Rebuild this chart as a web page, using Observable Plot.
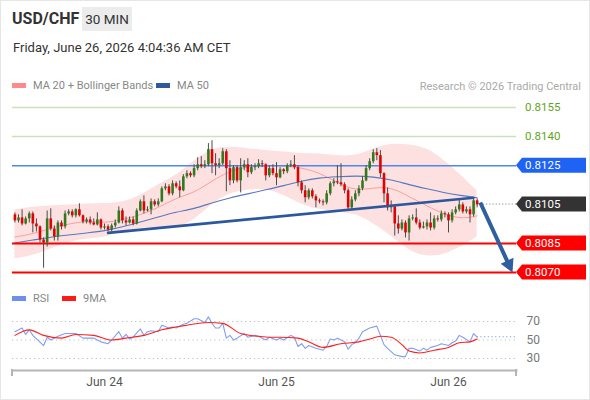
<!DOCTYPE html>
<html><head><meta charset="utf-8">
<script src="https://cdn.jsdelivr.net/npm/d3@7"></script>
<script src="https://cdn.jsdelivr.net/npm/@observablehq/plot@0.6"></script>
<style>
body{margin:0;background:#fff;font-family:Roboto,"Liberation Sans",Arial,sans-serif;}
#wrap{position:relative;width:590px;height:400px;overflow:hidden;background:#fff;}
#frame{position:absolute;left:0;top:0;width:590px;height:400px;box-sizing:border-box;border:1px solid #e6e6e6;pointer-events:none;}
.abs{position:absolute;white-space:nowrap;}
.sym{left:12px;top:9px;font-size:16px;font-weight:bold;color:#333;}
.tf{left:82px;top:7px;width:50px;height:24px;line-height:24px;text-align:center;background:#ececec;font-size:13.5px;color:#333;}
.date{left:13px;top:40px;font-size:13px;color:#333;}
.leg{font-size:11px;color:#888;line-height:12px;}
.sw{display:inline-block;width:14px;height:5px;vertical-align:middle;margin-right:7px;position:relative;top:-1px;}
.credit{right:9px;top:80px;font-size:11px;color:#aaa;}
</style></head><body>
<div id="wrap">
  <div class="abs sym">USD/CHF</div>
  <div class="abs tf">30 MIN</div>
  <div class="abs date">Friday, June 26, 2026 4:04:36 AM CET</div>
  <div class="abs leg" style="left:12px;top:80px"><span class="sw" style="background:#ff8a8a"></span>MA 20 + Bollinger Bands</div>
  <div class="abs leg" style="left:156px;top:80px"><span class="sw" style="background:#2f5a9c"></span>MA 50</div>
  <div class="abs credit">Research © 2026 Trading Central</div>
  <div id="price" class="abs" style="left:0;top:95px"></div>
  <div class="abs leg" style="left:12px;top:293px"><span class="sw" style="background:#6f8ff0"></span>RSI</div>
  <div class="abs leg" style="left:62px;top:293px"><span class="sw" style="background:#ff1a1a"></span>9MA</div>
  <div id="rsi" class="abs" style="left:0;top:290px"></div>
  <div id="frame"></div>
</div>
<script>
// ---- data ----
const firstCandle = "2026-06-23T11:30:00Z"; // 30-minute candles
const dayTicks = ["2026-06-24T00:00:00Z","2026-06-25T00:00:00Z","2026-06-26T00:00:00Z"];

const open = [.80997,.80966,.80981,.80950,.80976,.81002,.80950,.80935,.80867,.80852,
.80976,.80924,.80883,.80955,.80935,.81002,.81012,.80992,.81023,.80992,
.80960,.80971,.80955,.80945,.80971,.80929,.80935,.80919,.80940,.80955,
.81017,.80966,.80955,.80971,.80950,.81017,.81064,.81017,.81023,.81064,
.81048,.81064,.81131,.81141,.81105,.81157,.81141,.81121,.81193,.81209,
.81198,.81235,.81255,.81245,.81255,.81333,.81260,.81250,.81260,.81322,
.81235,.81172,.81240,.81172,.81240,.81255,.81214,.81240,.81245,.81260,
.81255,.81198,.81235,.81209,.81188,.81229,.81219,.81250,.81255,.81240,
.81162,.81121,.81085,.81121,.81090,.81069,.81064,.81059,.81105,.81157,
.81167,.81162,.81152,.81121,.81033,.81074,.81105,.81131,.81172,.81235,
.81271,.81317,.81302,.81209,.81105,.81033,.81038,.80950,.80924,.80955,
.80904,.80976,.80981,.80955,.80929,.80935,.80955,.80929,.80976,.80971,
.81002,.80997,.80966,.81007,.81023,.81048,.81012,.81023,.80997,.81069];
const close = [.80966,.80981,.80950,.80976,.81002,.80950,.80935,.80867,.80852,.80976,
.80924,.80883,.80955,.80935,.81002,.81012,.80992,.81023,.80992,.80960,
.80971,.80955,.80945,.80971,.80929,.80935,.80919,.80940,.80955,.81017,
.80966,.80955,.80971,.80950,.81017,.81064,.81017,.81023,.81064,.81048,
.81064,.81131,.81141,.81105,.81157,.81141,.81121,.81193,.81209,.81198,
.81235,.81255,.81245,.81255,.81333,.81260,.81250,.81260,.81322,.81235,
.81172,.81240,.81172,.81240,.81255,.81214,.81240,.81245,.81260,.81255,
.81198,.81235,.81209,.81188,.81229,.81219,.81250,.81255,.81240,.81162,
.81121,.81085,.81121,.81090,.81069,.81064,.81059,.81105,.81157,.81167,
.81162,.81152,.81121,.81033,.81074,.81105,.81131,.81172,.81235,.81271,
.81317,.81302,.81209,.81105,.81033,.81038,.80950,.80924,.80955,.80904,
.80976,.80981,.80955,.80929,.80935,.80955,.80929,.80976,.80971,.81002,
.80997,.80966,.81007,.81023,.81048,.81012,.81023,.80997,.81069,.81048];
const high = [.81007,.80997,.81023,.80986,.81012,.81012,.80976,.80940,.80878,.81017,
.81028,.80940,.80966,.80966,.81017,.81023,.81023,.81028,.81054,.80997,
.80981,.80986,.80976,.81007,.80976,.80950,.80945,.80950,.80971,.81038,
.81028,.80986,.80986,.80986,.81028,.81074,.81095,.81038,.81079,.81074,
.81079,.81141,.81157,.81152,.81172,.81167,.81172,.81204,.81224,.81219,
.81255,.81291,.81297,.81276,.81364,.81379,.81312,.81286,.81338,.81333,
.81276,.81250,.81250,.81286,.81276,.81286,.81255,.81260,.81281,.81276,
.81260,.81250,.81255,.81266,.81240,.81235,.81260,.81276,.81302,.81250,
.81172,.81147,.81131,.81131,.81100,.81079,.81074,.81121,.81167,.81183,
.81250,.81260,.81162,.81131,.81090,.81121,.81147,.81193,.81250,.81286,
.81333,.81338,.81328,.81214,.81136,.81069,.81043,.80992,.80971,.80966,
.80992,.80997,.81028,.80971,.80960,.80971,.81007,.80992,.80992,.81017,
.81012,.81007,.81023,.81038,.81074,.81059,.81038,.81038,.81079,.81079];
const low = [.80955,.80955,.80940,.80945,.80955,.80904,.80909,.80852,.80722,.80831,
.80914,.80862,.80862,.80919,.80924,.80992,.80981,.80981,.80986,.80950,
.80950,.80945,.80940,.80940,.80919,.80919,.80909,.80909,.80929,.80950,
.80950,.80940,.80950,.80940,.80945,.81012,.81002,.81012,.80997,.81038,
.81038,.81059,.81121,.81095,.81095,.81131,.81085,.81116,.81183,.81188,
.81188,.81224,.81235,.81235,.81245,.81209,.81198,.81235,.81250,.81116,
.81147,.81157,.81162,.81110,.81224,.81188,.81204,.81224,.81235,.81240,
.81172,.81188,.81198,.81147,.81183,.81204,.81209,.81240,.81229,.81141,
.81105,.81059,.81074,.81079,.81033,.81054,.81043,.81048,.81095,.81141,
.81152,.81141,.81105,.81017,.81023,.81064,.81090,.81121,.81167,.81224,
.81260,.81276,.81188,.81059,.81017,.81007,.80888,.80898,.80914,.80878,
.80862,.80966,.80945,.80919,.80924,.80919,.80914,.80919,.80960,.80960,
.80981,.80904,.80955,.80997,.81012,.81002,.81002,.80955,.80986,.81033];

// indicators, sampled every 5 candles
const bandIdx = [0,5,10,15,20,25,30,35,40,45,50,55,60,65,70,75,80,85,90,95,100,105,110,115,120,125,129];
const bbUpper = [.81023,.81038,.81043,.81048,.81054,.81054,.81059,.81095,.81152,.81198,.81276,.81338,.81348,.81338,.81328,.81322,.81312,.81312,.81302,.81297,.81338,.81364,.81359,.81343,.81276,.81193,.81121];
const ma20 = [.80883,.80898,.80929,.80950,.80966,.80955,.80971,.80997,.81033,.81085,.81110,.81172,.81224,.81245,.81250,.81250,.81240,.81214,.81162,.81121,.81136,.81141,.81090,.81043,.80997,.80976,.80992];
const bbLower = [.80769,.80785,.80821,.80857,.80873,.80878,.80909,.80929,.80935,.80924,.80966,.81054,.81110,.81126,.81131,.81100,.81048,.81023,.81012,.81002,.80955,.80888,.80810,.80779,.80790,.80836,.80883];
const ma50 = [.80852,.80867,.80883,.80893,.80904,.80914,.80935,.80960,.80986,.81012,.81028,.81059,.81085,.81105,.81126,.81147,.81172,.81188,.81193,.81198,.81193,.81178,.81152,.81131,.81110,.81095,.81085];

const levelGreen = [0.8155, 0.8140];
const levelBlue = [0.8125];
const levelRed = [0.8085, 0.8070];
const lastPrice = 0.8105;

const trendTime = ["2026-06-24T00:30:00Z","2026-06-26T03:30:00Z"];
const trendPrice = [0.80904, 0.81085];
const arrowTime = ["2026-06-26T04:30:00Z","2026-06-26T09:00:00Z"];
const arrowPrice = [0.81058, 0.80697];

const rsiIdx = [0,2,3,4,5,8,9,10,12,14,17,19,22,24,26,27,29,30,31,32,33,35,36,37,38,40,41,43,44,45,47,48,50,51,53,54,55,56,57,58,59,60,61,62,64,65,67,68,69,70,71,73,74,75,77,78,79,80,81,82,84,86,87,88,89,90,92,93,94,95,96,97,99,101,102,103,104,106,108,109,110,111,113,114,115,116,118,119,121,122,123,124,125,127,128,129];
const rsiVal = [59,63,56,61,55,44,53,50,54,57,57,52,52,48,46,50,59,52,56,51,53,62,55,59,60,59,66,63,64,63,67,68,73,73,69,75,68,63,63,68,52,55,50,52,57,53,55,54,52,50,53,50,52,50,55,53,43,46,41,44,41,39,43,51,50,52,48,40,45,47,52,59,63,65,55,45,41,34,32,32,41,41,38,41,39,42,44,46,44,47,49,55,53,48,57,53];
const ma9Idx = [0,4,8,13,17,22,27,31,36,41,48,54,58,63,68,71,74,79,82,86,91,96,99,102,105,108,110,113,117,121,124,127,129];
const ma9Val = [55,61,55,52,56,55,50,52,55,61,66,69,68,57,54,53,53,52,48,42,46,48,51,54,53,45,38,36,39,42,47,48,51];
const rsiLevels = [30, 50, 70];

// ---- build ----
const T0 = new Date(firstCandle).getTime();
const STEP = 30 * 60 * 1000;
const tOf = i => new Date(T0 + i * STEP);
const candles = close.map((c, i) => ({t: tOf(i), o: open[i], h: high[i], l: low[i], c}));
const band = bandIdx.map((k, j) => ({t: tOf(k), up: bbUpper[j], mid: ma20[j], lo: bbLower[j], m50: ma50[j]}));
const trend = trendTime.map((s, j) => ({t: new Date(s), p: trendPrice[j]}));
const rsi = rsiIdx.map((k, j) => ({t: tOf(k), v: rsiVal[j]}));
const ma9 = ma9Idx.map((k, j) => ({t: tOf(k), v: ma9Val[j]}));
const ticks = dayTicks.map(s => new Date(s));
const xDomain = [ticks[0], ticks[2]];

const W = 590, ML = 12, MR = 74;
const font = "Roboto, 'Liberation Sans', Arial, sans-serif";

const price = Plot.plot({
  width: W, height: 190, marginLeft: ML, marginRight: MR, marginTop: 0, marginBottom: 0,
  style: {background: "transparent", fontFamily: font, overflow: "visible"},
  x: {type: "utc", domain: xDomain, range: [104, 448], axis: null},
  y: {domain: [0.8070, 0.8155], range: [177, 12], axis: null},
  marks: [
    Plot.areaY(band, {x: "t", y1: "lo", y2: "up", fill: "#fde1e1", curve: "basis"}),
    Plot.line(band, {x: "t", y: "mid", stroke: "#ff9c9c", strokeWidth: 1, curve: "basis"}),
    Plot.line(band, {x: "t", y: "m50", stroke: "#5878bd", strokeWidth: 1.1, curve: "basis"}),
    Plot.ruleY(levelGreen, {stroke: "#c9e3b8", strokeWidth: 1.5}),
    Plot.ruleY(levelBlue, {stroke: "#4f87ec", strokeWidth: 1.6}),
    Plot.ruleY(levelRed, {stroke: "#ff0000", strokeWidth: 2}),
    Plot.ruleX(candles, {x: "t", y1: "l", y2: "h", stroke: "#4a4a4a", strokeWidth: 1}),
    Plot.ruleX(candles.filter(d => d.c >= d.o), {x: "t", y1: "o", y2: "c", stroke: "#2f7a1c", strokeWidth: 2.6}),
    Plot.ruleX(candles.filter(d => d.c < d.o), {x: "t", y1: "o", y2: "c", stroke: "#e20000", strokeWidth: 2.6}),
    Plot.line(trend, {x: "t", y: "p", stroke: "#2b589c", strokeWidth: 2.6})
  ]
});
document.getElementById("price").appendChild(price);

const xs = price.scale("x"), ys = price.scale("y");
const X = xs.apply ? (v => xs.apply(v)) : d3.scaleUtc(xs.domain, xs.range);
const Y = ys.apply ? (v => ys.apply(v)) : d3.scaleLinear(ys.domain, ys.range);
const sp = d3.select(price);
const xr = W - MR;

// dotted line from last candle to the label
const lastT = candles[candles.length - 1].t;
sp.append("line").attr("x1", X(lastT) + 3).attr("x2", xr).attr("y1", Y(lastPrice)).attr("y2", Y(lastPrice))
  .attr("stroke", "#8a8a8a").attr("stroke-dasharray", "1.2,2").attr("stroke-width", 1);

// arrow
{
  const x0 = X(new Date(arrowTime[0])), y0 = Y(arrowPrice[0]);
  const x1 = X(new Date(arrowTime[1])), y1 = Y(arrowPrice[1]);
  const dx = x1 - x0, dy = y1 - y0, L = Math.hypot(dx, dy), ux = dx / L, uy = dy / L;
  const hl = 13, hw = 7;
  const bx = x1 - ux * hl, by = y1 - uy * hl;
  sp.append("line").attr("x1", x0).attr("y1", y0).attr("x2", bx + ux * 2).attr("y2", by + uy * 2)
    .attr("stroke", "#2f5f9f").attr("stroke-width", 4);
  sp.append("path").attr("d", `M${x1},${y1}L${bx - uy * hw},${by + ux * hw}L${bx + uy * hw},${by - ux * hw}Z`)
    .attr("fill", "#2f5f9f");
}

// right-hand labels
const fmt = d3.format(".4f");
levelGreen.forEach(v => {
  sp.append("text").attr("x", xr + 9).attr("y", Y(v)).attr("dy", "0.36em").attr("text-anchor", "start")
    .attr("font-size", 11.5).attr("fill", "#5ea523").attr("font-family", font).text(fmt(v));
});
const boxes = [
  ...levelBlue.map(v => [v, "#1f63f5"]),
  [lastPrice, "#333333"],
  ...levelRed.map(v => [v, "#ff0000"])
];
boxes.forEach(([v, col]) => {
  const y = Y(v), h = 7.5;
  sp.append("path").attr("d", `M${xr},${y}L${xr + 6},${y - h}L${W - 4},${y - h}L${W - 4},${y + h}L${xr + 6},${y + h}Z`).attr("fill", col);
  sp.append("text").attr("x", xr + 9).attr("y", y).attr("dy", "0.36em").attr("text-anchor", "start")
    .attr("font-size", 11.5).attr("fill", "#fff").attr("font-family", font).text(fmt(v));
});

// ---- RSI panel ----
const rsiPlot = Plot.plot({
  width: W, height: 110, marginLeft: ML, marginRight: MR, marginTop: 0, marginBottom: 30,
  style: {background: "transparent", fontFamily: font, fontSize: "12px", overflow: "visible"},
  x: {type: "utc", domain: xDomain, range: [104, 448], label: null},
  y: {domain: [30, 70], range: [68, 31], label: null},
  marks: [
    Plot.ruleY(rsiLevels, {stroke: "#bdbdbd", strokeDasharray: "1.2,3.2", strokeWidth: 1}),
    Plot.line(rsi, {x: "t", y: "v", stroke: "#7f9ff0", strokeWidth: 1.1}),
    Plot.line(ma9, {x: "t", y: "v", stroke: "#ff2020", strokeWidth: 1.1, curve: "monotone-x"}),
    Plot.frame({anchor: "bottom", stroke: "#b5b5b5", strokeWidth: 2}),
    Plot.axisY({anchor: "right", ticks: rsiLevels, tickSize: 0, tickPadding: 10, color: "#777", fontSize: 12, label: null}),
    Plot.axisX({ticks, tickFormat: d3.utcFormat("%b %d"), tickSize: 0, tickPadding: 7, color: "#555", fontSize: 12, label: null})
  ]
});
document.getElementById("rsi").appendChild(rsiPlot);
{
  const rx = rsiPlot.scale("x"), ry = rsiPlot.scale("y");
  const RX = rx.apply ? (v => rx.apply(v)) : d3.scaleUtc(rx.domain, rx.range);
  const RY = ry.apply ? (v => ry.apply(v)) : d3.scaleLinear(ry.domain, ry.range);
  const sr = d3.select(rsiPlot);
  const last = rsi[rsi.length - 1];
  sr.append("line").attr("x1", RX(last.t)).attr("x2", xr).attr("y1", RY(last.v)).attr("y2", RY(last.v))
    .attr("stroke", "#7f9ff0").attr("stroke-dasharray", "1.2,2.5");
  [ML, xr].forEach(x => sr.append("line").attr("x1", x).attr("x2", x).attr("y1", 79).attr("y2", 86)
    .attr("stroke", "#b5b5b5").attr("stroke-width", 2));
}
</script>
</body></html>
